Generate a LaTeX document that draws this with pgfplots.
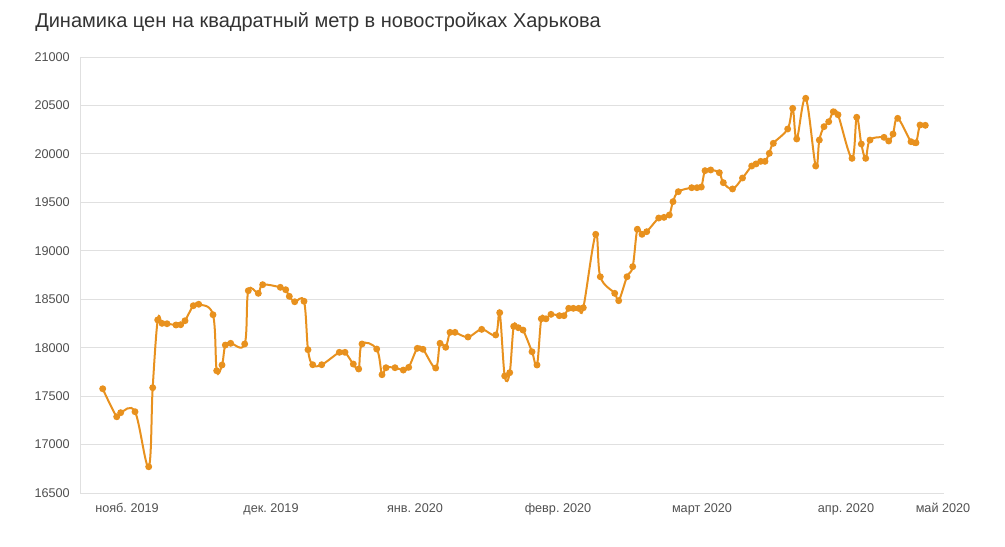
\documentclass[border=0pt]{standalone}
\usepackage{pgfplots}
\pgfplotsset{compat=1.18}
\usepackage{fontspec}
\setmainfont{Liberation Sans}
\frenchspacing
\definecolor{lineor}{RGB}{232,145,30}
\definecolor{gridc}{RGB}{224,224,224}
\definecolor{txt}{RGB}{80,80,80}
\definecolor{ttl}{RGB}{51,51,51}
\begin{document}
\begin{tikzpicture}
\useasboundingbox (0,0) rectangle (753.75pt,409.5pt);
\node[anchor=west, text=ttl, inner sep=0pt, font=\fontsize{15}{18}\selectfont] at (26.25pt,393pt) {Динамика цен на квадратный метр в новостройках Харькова};
\begin{axis}[
  at={(60pt,39.75pt)}, anchor=south west,
  scale only axis, width=648pt, height=327pt,
  xmin=80, xmax=944, ymin=16500, ymax=21000,
  axis lines=left, axis line style={-, gridc, line width=0.75pt},
  major tick length=0pt,
  ymajorgrids, major grid style={gridc, line width=0.75pt},
  ytick={16500,17000,17500,18000,18500,19000,19500,20000,20500,21000},
  scaled y ticks=false,
  yticklabel={\pgfmathprintnumber[fixed,precision=0,1000 sep={}]{\tick}},
  xtick={127,271,415,558,702,846,943},
  xticklabels={нояб.\ 2019, дек.\ 2019, янв.\ 2020, февр.\ 2020, март 2020, апр.\ 2020, май 2020},
  /pgf/number format/assume math mode=true,
  /pgf/number format/1000 sep={},
  yticklabel style={anchor=east, inner sep=0pt, xshift=-7.5pt, text=txt, font=\fontsize{9.5}{11}\selectfont},
  xticklabel style={anchor=base, inner sep=0pt, yshift=-14.8pt, text=txt, font=\fontsize{9.5}{11}\selectfont},
  clip=false,
]
\addplot[color=lineor, line width=1.5pt, smooth, tension=0.6, mark=*, mark size=1.8pt, mark options={fill=lineor, draw=lineor}] coordinates {
(102.7,17576) (116.7,17287) (120.7,17329) (135,17339) (148.7,16771) (152.7,17587)
(157.7,18286) (162,18251) (167,18247) (176,18234) (180.7,18237) (185,18278)
(193.3,18433) (198.7,18448) (213,18340) (216.7,17762) (222,17821) (225.3,18027)
(230.7,18045) (244.7,18038) (248.3,18588) (258.3,18561) (262.7,18650) (280.3,18623)
(285.7,18598) (289.3,18530) (294.7,18474) (304,18479) (308,17979) (312.7,17824)
(321.7,17824) (339.3,17952) (345,17952) (353.3,17831) (358.7,17780) (362,18038)
(376.7,17986) (382,17721) (386,17793) (395,17793) (403.3,17769) (408.7,17797)
(417.3,17993) (423,17983) (435.7,17790) (440,18045) (445.7,18004) (450,18158)
(455,18158) (468,18110) (481.7,18189) (495.7,18131) (499.7,18361) (504.7,17708)
(509.7,17742) (513.7,18220) (518.3,18206) (523,18182) (532,17958) (537,17821)
(541.3,18298) (546,18298) (551,18344) (559.3,18330) (564,18330) (568.7,18406)
(573.3,18406) (578.7,18406) (583.3,18412) (595.7,19170) (600.3,18732) (614.7,18561)
(618.7,18485) (627,18732) (632.7,18836) (637.3,19222) (642,19170) (646.7,19197)
(658.7,19338) (664,19345) (669.3,19369) (673,19507) (678.3,19610) (691.7,19651)
(697,19651) (701.3,19658) (705,19827) (710.7,19834) (719.3,19806) (723.3,19703)
(732.5,19638) (742.5,19751) (751.7,19875) (756,19896) (760.7,19923) (765,19923)
(769.3,20006) (773.3,20109) (787.7,20257) (792.7,20470) (796.7,20154) (805.7,20574)
(815.7,19875) (819.3,20143) (824,20281) (828.7,20332) (833.3,20435) (838,20404)
(852,19954) (856.7,20378) (861.3,20102) (865.7,19954) (870,20143) (884,20171)
(888.7,20133) (893,20205) (897.7,20367) (911,20126) (916,20115) (920,20298)
(925.3,20295)
};
\end{axis}
\end{tikzpicture}
\end{document}
